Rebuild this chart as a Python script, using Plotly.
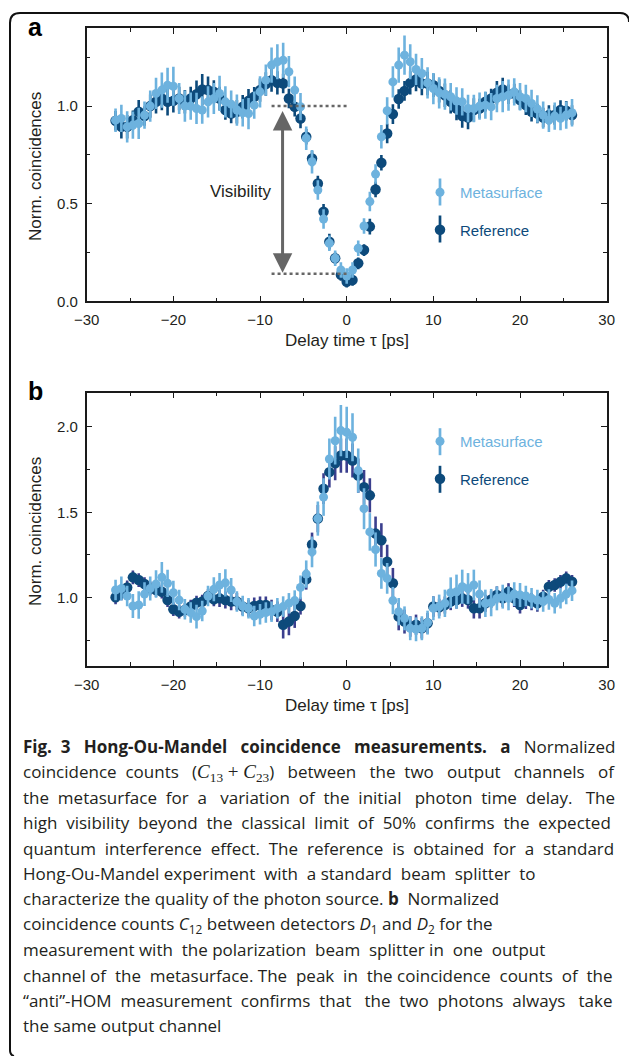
import plotly.graph_objects as go

W, H = 629, 1056
def px(x): return x / W
def py(y): return 1 - y / H

# ---------------- data ----------------
delay = [-26.67, -26.00, -25.33, -24.67, -24.00, -23.33, -22.67, -22.00, -21.33, -20.67,
         -20.00, -19.33, -18.67, -18.00, -17.33, -16.67, -16.00, -15.33, -14.67, -14.00,
         -13.33, -12.67, -12.00, -11.33, -10.67, -10.00, -9.33, -8.67, -8.00, -7.33,
         -6.67, -6.00, -5.33, -4.67, -4.00, -3.33, -2.67, -2.00, -1.33, -0.67,
         0.00, 0.67, 1.33, 2.00, 2.67, 3.33, 4.00, 4.67, 5.33, 6.00,
         6.67, 7.33, 8.00, 8.67, 9.33, 10.00, 10.67, 11.33, 12.00, 12.67,
         13.33, 14.00, 14.67, 15.33, 16.00, 16.67, 17.33, 18.00, 18.67, 19.33,
         20.00, 20.67, 21.33, 22.00, 22.67, 23.33, 24.00, 24.67, 25.33, 26.00]

# panel a: HOM dip
ref_a = [0.925, 0.894, 0.894, 0.928, 0.971, 0.949, 1.000, 1.022, 1.039, 1.022,
         1.027, 1.039, 1.022, 1.039, 1.061, 1.085, 1.082, 1.073, 1.039, 0.980,
         0.962, 0.971, 0.997, 1.027, 1.048, 1.082, 1.113, 1.133, 1.119, 1.116,
         1.039, 0.997, 0.937, 0.843, 0.732, 0.604, 0.459, 0.306, 0.221, 0.136,
         0.101, 0.110, 0.195, 0.263, 0.383, 0.573, 0.710, 0.860, 0.959, 1.036,
         1.078, 1.119, 1.136, 1.116, 1.116, 1.107, 1.078, 1.056, 1.022, 0.988,
         0.949, 0.942, 0.980, 0.988, 1.022, 1.039, 1.068, 1.085, 1.061, 1.065,
         1.031, 1.005, 0.971, 0.962, 0.942, 0.954, 0.954, 0.980, 0.976, 0.954]
ref_a_err = [0.05, 0.06, 0.06, 0.05, 0.06, 0.05, 0.06, 0.06, 0.06, 0.07,
             0.06, 0.06, 0.06, 0.06, 0.07, 0.08, 0.07, 0.06, 0.06, 0.05,
             0.05, 0.06, 0.06, 0.06, 0.05, 0.06, 0.06, 0.06, 0.06, 0.05,
             0.05, 0.05, 0.05, 0.04, 0.04, 0.04, 0.04, 0.04, 0.03, 0.03,
             0.03, 0.03, 0.03, 0.03, 0.04, 0.04, 0.04, 0.05, 0.05, 0.05,
             0.05, 0.06, 0.06, 0.06, 0.06, 0.06, 0.06, 0.06, 0.06, 0.06,
             0.06, 0.06, 0.06, 0.05, 0.05, 0.05, 0.06, 0.06, 0.05, 0.05,
             0.05, 0.05, 0.05, 0.05, 0.05, 0.05, 0.05, 0.05, 0.05, 0.05]
meta_a = [0.928, 0.937, 0.894, 0.903, 0.911, 0.954, 1.000, 1.065, 1.082, 1.107,
          1.102, 1.039, 1.000, 1.000, 0.988, 0.980, 1.022, 1.039, 1.065, 1.022,
          1.010, 0.980, 0.966, 0.962, 1.005, 1.073, 1.133, 1.210, 1.227, 1.235,
          1.176, 1.082, 0.997, 0.835, 0.715, 0.570, 0.422, 0.298, 0.221, 0.161,
          0.130, 0.161, 0.272, 0.386, 0.511, 0.652, 0.843, 0.976, 1.124, 1.210,
          1.261, 1.227, 1.188, 1.167, 1.119, 1.090, 1.068, 1.061, 1.048, 1.026,
          1.022, 0.988, 0.988, 1.000, 1.005, 0.997, 1.039, 1.048, 1.056, 1.073,
          1.048, 1.039, 1.014, 0.985, 0.954, 0.928, 0.949, 0.937, 0.954, 0.966]
meta_a_err = [0.06, 0.07, 0.08, 0.07, 0.08, 0.07, 0.08, 0.08, 0.09, 0.09,
              0.10, 0.08, 0.08, 0.07, 0.08, 0.07, 0.08, 0.08, 0.09, 0.08,
              0.07, 0.08, 0.07, 0.08, 0.07, 0.08, 0.08, 0.09, 0.09, 0.09,
              0.08, 0.07, 0.07, 0.06, 0.06, 0.05, 0.05, 0.04, 0.04, 0.04,
              0.04, 0.04, 0.04, 0.04, 0.05, 0.05, 0.06, 0.07, 0.08, 0.09,
              0.10, 0.09, 0.08, 0.08, 0.08, 0.08, 0.08, 0.08, 0.07, 0.07,
              0.07, 0.07, 0.07, 0.07, 0.07, 0.07, 0.07, 0.08, 0.08, 0.07,
              0.07, 0.07, 0.07, 0.07, 0.07, 0.06, 0.07, 0.06, 0.07, 0.07]

# panel b: anti-HOM peak
ref_b = [1.002, 1.025, 1.060, 1.119, 1.103, 1.080, 1.054, 1.045, 1.035, 0.986,
         0.932, 0.918, 0.928, 0.948, 0.971, 0.977, 1.010, 0.990, 0.996, 0.986,
         0.977, 0.977, 0.948, 0.938, 0.951, 0.957, 0.957, 0.928, 0.918, 0.841,
         0.860, 0.893, 0.951, 1.107, 1.311, 1.463, 1.638, 1.735, 1.787, 1.832,
         1.832, 1.803, 1.715, 1.647, 1.599, 1.375, 1.336, 1.210, 1.084, 0.889,
         0.860, 0.831, 0.841, 0.821, 0.850, 0.948, 0.944, 0.957, 0.977, 0.986,
         0.996, 0.986, 0.938, 0.938, 0.967, 0.990, 1.016, 0.996, 1.035, 0.996,
         0.957, 0.983, 0.977, 0.967, 1.006, 1.064, 1.074, 1.093, 1.113, 1.093]
ref_b_err = [0.04, 0.04, 0.04, 0.04, 0.04, 0.04, 0.04, 0.04, 0.04, 0.04,
             0.04, 0.04, 0.04, 0.04, 0.04, 0.04, 0.04, 0.04, 0.05, 0.05,
             0.05, 0.05, 0.05, 0.05, 0.05, 0.05, 0.05, 0.06, 0.06, 0.08,
             0.08, 0.07, 0.05, 0.06, 0.07, 0.08, 0.09, 0.09, 0.10, 0.10,
             0.10, 0.10, 0.10, 0.10, 0.10, 0.10, 0.10, 0.10, 0.09, 0.08,
             0.07, 0.06, 0.06, 0.06, 0.06, 0.06, 0.05, 0.05, 0.05, 0.05,
             0.05, 0.05, 0.06, 0.06, 0.05, 0.05, 0.05, 0.05, 0.05, 0.05,
             0.05, 0.05, 0.05, 0.05, 0.04, 0.04, 0.04, 0.04, 0.04, 0.04]
meta_b = [1.045, 1.054, 1.010, 0.951, 0.957, 1.021, 1.054, 1.080, 1.119, 1.084,
          1.029, 0.986, 0.932, 0.913, 0.889, 0.922, 1.010, 1.049, 1.074, 1.087,
          1.045, 0.977, 0.951, 0.938, 0.893, 0.903, 0.913, 0.918, 0.938, 0.948,
          0.967, 0.983, 1.060, 1.138, 1.268, 1.463, 1.589, 1.812, 1.919, 1.978,
          1.968, 1.939, 1.744, 1.521, 1.385, 1.282, 1.142, 1.113, 0.983, 0.918,
          0.879, 0.821, 0.815, 0.821, 0.854, 0.938, 0.948, 0.967, 1.029, 1.035,
          1.064, 1.054, 1.074, 1.021, 0.967, 0.971, 0.996, 1.006, 0.996, 1.021,
          1.016, 1.010, 0.996, 0.986, 0.977, 0.990, 0.967, 0.996, 1.021, 1.041]
meta_b_err = [0.06, 0.07, 0.06, 0.07, 0.08, 0.07, 0.07, 0.08, 0.09, 0.08,
              0.07, 0.06, 0.06, 0.06, 0.07, 0.06, 0.06, 0.07, 0.07, 0.08,
              0.07, 0.06, 0.06, 0.06, 0.06, 0.06, 0.06, 0.06, 0.06, 0.06,
              0.06, 0.06, 0.07, 0.08, 0.09, 0.10, 0.11, 0.12, 0.14, 0.15,
              0.15, 0.14, 0.13, 0.12, 0.11, 0.10, 0.09, 0.09, 0.08, 0.08,
              0.07, 0.07, 0.07, 0.07, 0.07, 0.07, 0.07, 0.08, 0.09, 0.10,
              0.10, 0.09, 0.09, 0.08, 0.08, 0.08, 0.07, 0.07, 0.07, 0.07,
              0.07, 0.06, 0.06, 0.06, 0.06, 0.06, 0.06, 0.06, 0.06, 0.06]

series_names = ["Metasurface", "Reference"]
x_ticks = [-30, -20, -10, 0, 10, 20, 30]

for arr in (ref_a, ref_a_err, meta_a, meta_a_err, ref_b, ref_b_err, meta_b, meta_b_err):
    assert len(arr) == len(delay), len(arr)

# ---------------- style ----------------
META = "#6db2de"
REF = "#0d4a7b"
REF_ERR_B = "#3b3f8e"
TXT = "#231f20"
AXC = "#1a1a1a"
SANS = "Liberation Sans"

fig = go.Figure()

def add_pair(xa, ya, ref, ref_err, meta, meta_err, legend, ref_err_color):
    fig.add_trace(go.Scatter(
        x=delay, y=ref, mode="markers", xaxis=xa, yaxis=ya,
        name=f"<span style='color:{REF}'>{series_names[1]}</span>",
        legend=legend, legendgroup=legend + "r", legendrank=2,
        marker=dict(color=REF, size=10.5, line=dict(width=0)),
        error_y=dict(type="data", array=ref_err, color=ref_err_color, thickness=2.6, width=0),
    ))
    fig.add_trace(go.Scatter(
        x=delay, y=meta, mode="markers", xaxis=xa, yaxis=ya,
        name=f"<span style='color:{META}'>{series_names[0]}</span>",
        legend=legend, legendgroup=legend + "m", legendrank=1,
        marker=dict(color=META, size=9, line=dict(width=0)),
        error_y=dict(type="data", array=meta_err, color=META, thickness=2.6, width=0),
    ))

add_pair("x", "y", ref_a, ref_a_err, meta_a, meta_a_err, "legend", REF)
add_pair("x2", "y2", ref_b, ref_b_err, meta_b, meta_b_err, "legend2", REF_ERR_B)

axis_common = dict(
    showline=True, linecolor=AXC, linewidth=1.5, mirror="allticks",
    ticks="inside", ticklen=6, tickwidth=1.3, tickcolor=AXC,
    showgrid=False, zeroline=False, ticklabelstandoff=4, automargin=False,
    tickfont=dict(family=SANS, size=15, color=TXT),
)
xdom = [px(86.7), px(606.7)]
xax = dict(axis_common, range=[-30, 30], tickmode="array", tickvals=x_ticks,
           minor=dict(ticks="inside", ticklen=4, tickwidth=1.3, tickcolor=AXC, dtick=5, tick0=0, showgrid=False),
           domain=xdom)
fig.update_layout(
    xaxis=dict(xax, anchor="y"),
    yaxis=dict(axis_common, range=[0, 1.4], dtick=0.5, tick0=0, tickformat=".1f",
               minor=dict(ticks="inside", ticklen=4, tickwidth=1.3, tickcolor=AXC, dtick=0.25, tick0=0, showgrid=False),
               domain=[py(301.4), py(28)], anchor="x"),
    xaxis2=dict(xax, anchor="y2"),
    yaxis2=dict(axis_common, range=[0.6, 2.2], dtick=0.5, tick0=0, tickformat=".1f",
                minor=dict(ticks="inside", ticklen=4, tickwidth=1.3, tickcolor=AXC, dtick=0.25, tick0=0, showgrid=False),
                domain=[py(666), py(392.7)], anchor="x2"),
)

legend_common = dict(
    xanchor="left", yanchor="top", bgcolor="rgba(0,0,0,0)",
    font=dict(family=SANS, size=15, color=TXT), itemwidth=30,
    tracegroupgap=15, borderwidth=0, itemclick=False, itemdoubleclick=False,
)
LEG_X = 420
fig.update_layout(
    legend=dict(legend_common, x=px(LEG_X), y=py(176)),
    legend2=dict(legend_common, x=px(LEG_X), y=py(425)),
    showlegend=True,
)

annotations = []
# panel letters
annotations.append(dict(text="<b>a</b>", x=px(26), y=py(27), xref="paper", yref="paper",
                        xanchor="left", yanchor="middle", showarrow=False,
                        font=dict(family=SANS, size=25, color="#000")))
annotations.append(dict(text="<b>b</b>", x=px(26), y=py(391), xref="paper", yref="paper",
                        xanchor="left", yanchor="middle", showarrow=False,
                        font=dict(family=SANS, size=25, color="#000")))
# axis titles
for yc in (167, 532):
    annotations.append(dict(text="Norm. coincidences", x=px(35), y=py(yc), xref="paper", yref="paper",
                            xanchor="center", yanchor="middle", textangle=-90, showarrow=False,
                            font=dict(family=SANS, size=17, color=TXT)))
for yc in (340, 705):
    annotations.append(dict(text="Delay time τ [ps]", x=px(346.7), y=py(yc), xref="paper", yref="paper",
                            xanchor="center", yanchor="middle", showarrow=False,
                            font=dict(family=SANS, size=17, color=TXT)))
# visibility annotation
annotations.append(dict(text="Visibility", x=-12.2, y=0.563, xref="x", yref="y",
                        showarrow=False, font=dict(family=SANS, size=17, color=TXT)))
annotations.append(dict(text="", x=-7.4, y=0.147, ax=-7.4, ay=0.983, xref="x", yref="y",
                        axref="x", ayref="y", showarrow=True, arrowside="end+start",
                        arrowhead=2, startarrowhead=2, arrowsize=1.3, startarrowsize=1.3,
                        arrowwidth=3, arrowcolor="#666666", standoff=0, startstandoff=0,
                        font=dict(family=SANS, size=12)))

# caption (justified with non-breaking spaces, as in the reference)
MATH = ("(<span style='font-family:Liberation Serif;font-size:19px'><i>C</i><sub>13</sub> + "
        "<i>C</i><sub>23</sub></span>)")
cap_words = [
    (["<b>Fig.", "3", "Hong-Ou-Mandel", "coincidence", "measurements.", "a</b>", "Normalized"], 11),
    (["coincidence", "counts", MATH, "between", "the", "two", "output", "channels", "of"], 14),
    (["the", "metasurface", "for", "a", "variation", "of", "the", "initial", "photon", "time", "delay.", "The"], 14),
    (["high", "visibility", "beyond", "the", "classical", "limit", "of", "50%", "confirms", "the", "expected"], 10),
    (["quantum", "interference", "effect.", "The", "reference", "is", "obtained", "for", "a", "standard"], 9),
    (["Hong-Ou-Mandel", "experiment", "with", "a", "standard", "beam", "splitter", "to"], 5),
    (["characterize", "the", "quality", "of", "the", "photon", "source.", "<b>b</b>", "Normalized"], 1),
    (["coincidence", "counts", "<i>C</i><sub>12</sub>", "between", "detectors", "<i>D</i><sub>1</sub>",
      "and", "<i>D</i><sub>2</sub>", "for", "the"], 0),
    (["measurement", "with", "the", "polarization", "beam", "splitter", "in", "one", "output"], 5),
    (["channel", "of", "the", "metasurface.", "The", "peak", "in", "the", "coincidence", "counts", "of", "the"], 8),
    (["“anti”-HOM", "measurement", "confirms", "that", "the", "two", "photons", "always", "take"], 10),
    (["the", "same", "output", "channel"], 0),
]

def justify(words, n_extra):
    g = len(words) - 1
    out = words[0]
    for i in range(g):
        k = ((i + 1) * n_extra) // g - (i * n_extra) // g
        out += " " + "\u00a0" * k + words[i + 1]
    return out

cap_y = [746, 772, 797, 822, 848, 873, 898, 924, 949, 975, 1000, 1025]
for (words, n_extra), yc in zip(cap_words, cap_y):
    annotations.append(dict(text=justify(words, n_extra), x=px(21), y=py(yc), xref="paper", yref="paper",
                            xanchor="left", yanchor="middle", showarrow=False,
                            font=dict(family="Open Sans", size=17, color=TXT)))

shapes = []
# dotted guide lines for visibility
for yv in (1.0, 0.141):
    shapes.append(dict(type="line", x0=-8.67, x1=0.0, y0=yv, y1=yv, xref="x", yref="y",
                       line=dict(color="#666666", width=2.5, dash="3px,3px")))
# vertical error-bar glyphs of the legend symbols
for yc, col in ((192, META), (229, REF), (441.7, META), (479.3, REF)):
    shapes.append(dict(type="line", x0=px(LEG_X + 20), x1=px(LEG_X + 20), y0=py(yc - 13.5), y1=py(yc + 13.5),
                       xref="paper", yref="paper", line=dict(color=col, width=2.7), layer="below"))
# outer rounded frame
def P(x, y): return f"{px(x):.5f},{py(y):.5f}"
frame = (f"M {P(629, 22)} Q {P(629, 13)} {P(620, 13)} L {P(20, 13)} "
         f"Q {P(10, 13)} {P(10, 23)} L {P(10, 1050)} Q {P(10, 1055)} {P(14, 1056)}")
shapes.append(dict(type="path", path=frame, xref="paper", yref="paper",
                   line=dict(color="#111", width=2)))

fig.update_layout(
    width=W, height=H, autosize=False,
    margin=dict(l=0, r=0, t=0, b=0, pad=0, autoexpand=False),
    paper_bgcolor="white", plot_bgcolor="white",
    annotations=annotations, shapes=shapes,
)

fig.write_html("out.html", config={"displayModeBar": False},
               post_script="document.body.style.margin='0';")
